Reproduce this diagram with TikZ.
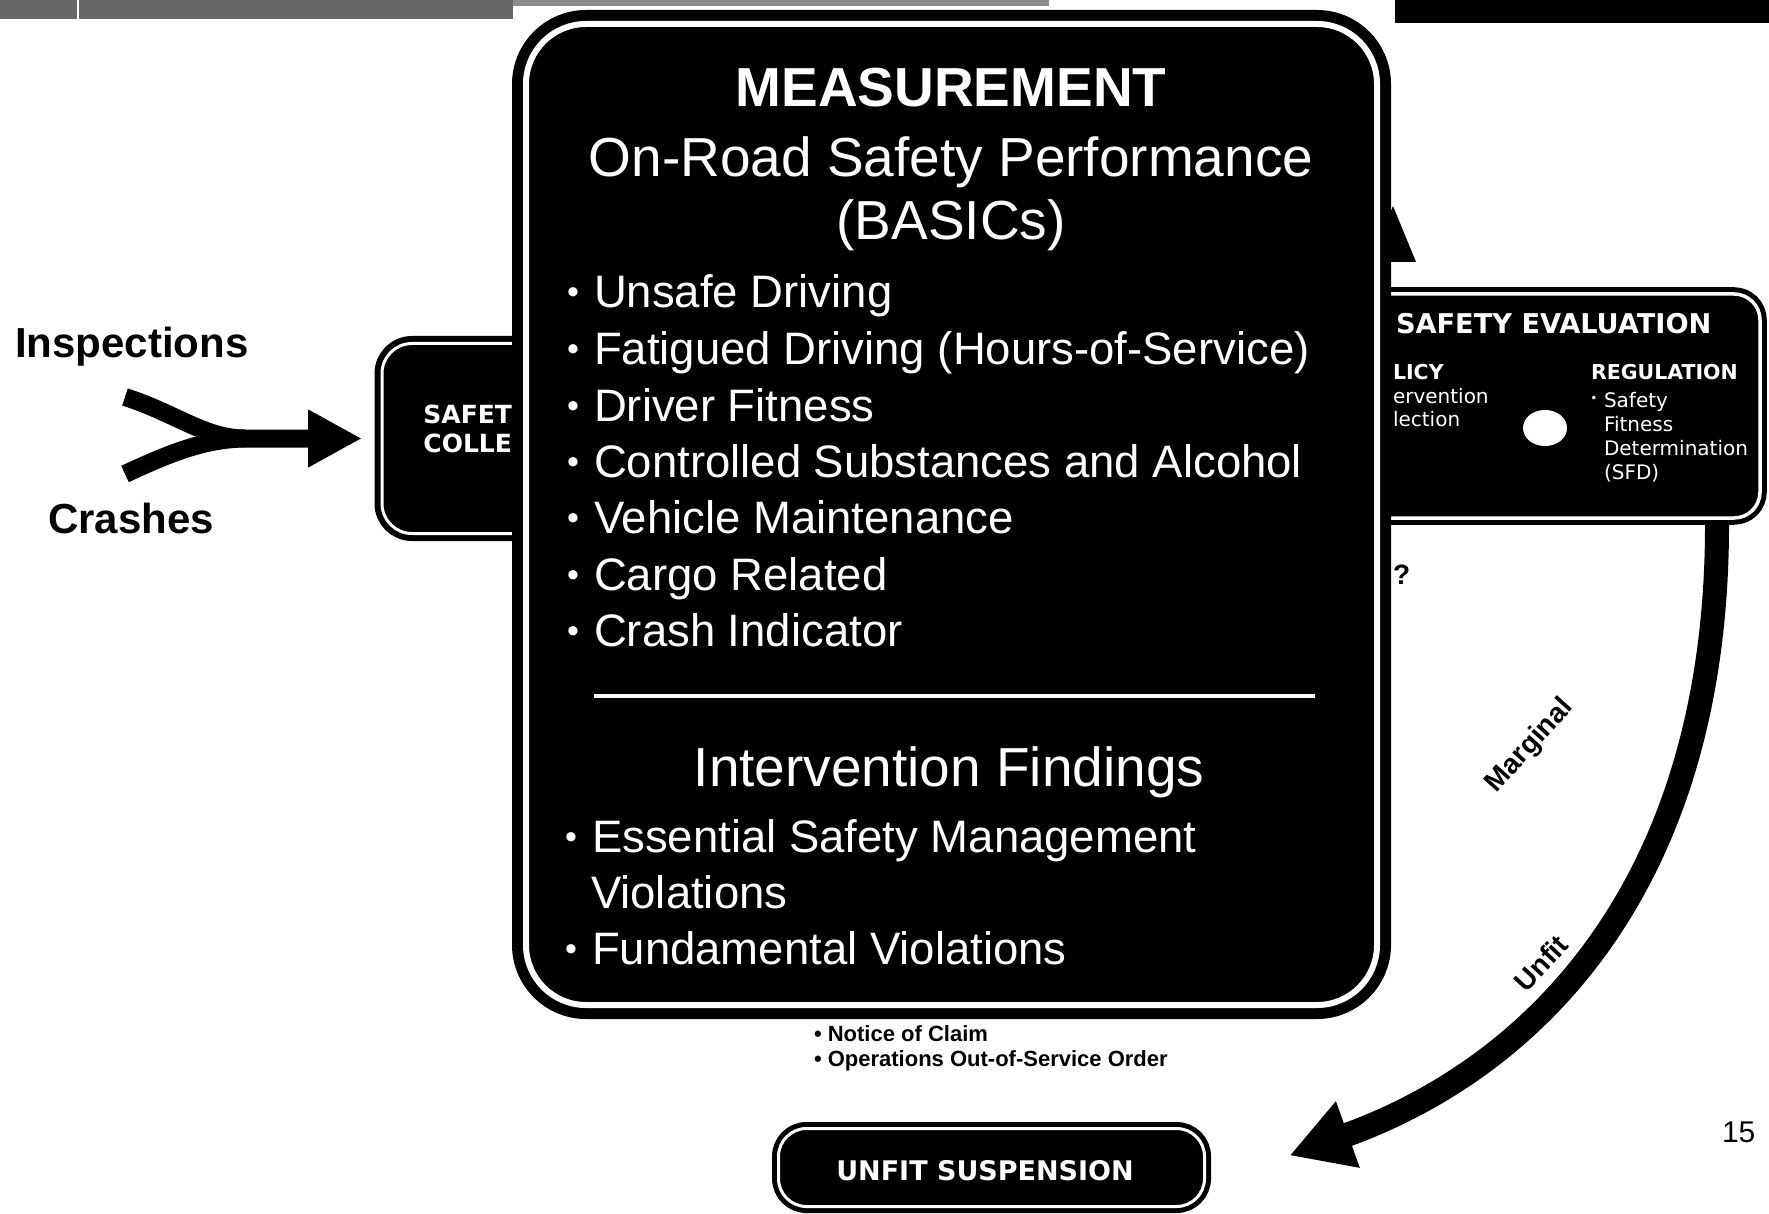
\documentclass[tikz,border=0pt]{standalone}
\usepackage{fontspec}
\setmainfont{Liberation Sans}
\newfontfamily\dvsans{DejaVu Sans}
\usetikzlibrary{arrows.meta,calc,shapes.geometric}

\newcommand{\setfs}[1]{\fontsize{#1}{#1}\selectfont}
% small raised bullet used in the panel lists
\newcommand{\mbul}{\makebox[27pt][l]{\setfs{34}\raisebox{4pt}{•}}}

\tikzset{
  boxring/.style={draw=black, fill=black, double=white, inner sep=0pt, outer sep=0pt},
  wtxt/.style={text=white, inner sep=0pt, outer sep=0pt},
  btxt/.style={text=black, inner sep=0pt, outer sep=0pt},
  bigtxt/.style={wtxt, font=\setfs{55}},
  itemtxt/.style={wtxt, anchor=base west, font=\setfs{45.5}},
  evalhead/.style={wtxt, anchor=base west, font=\dvsans\bfseries\setfs{20.5}},
  evalitem/.style={wtxt, anchor=base west, font=\dvsans\setfs{20}},
  fatline/.style={line width=18pt, line cap=butt},
  flowlabel/.style={btxt, font=\bfseries\setfs{28}},
}

\begin{document}
\begin{tikzpicture}[x=1pt,y=-1pt]
\fill[white] (0,0) rectangle (1769,1214);
\useasboundingbox (0,0) rectangle (1769,1214);

% header strips
\fill[black!60] (0,0) rectangle (513,19);
\fill[black!45] (513,0) rectangle (1049,6);
\fill[white] (77,0) rectangle (79,19);
\fill[black] (1395,0) rectangle (1769,23);

% side boxes, partly covered by the measurement panel
\node[boxring, line width=5pt, double distance=3.5pt, rounded corners=26pt,
      minimum width=560pt, minimum height=224pt] (seval) at (1480,406) {};
\node[boxring, line width=6pt, double distance=3pt, rounded corners=30pt,
      minimum width=318pt, minimum height=190pt] (collect) at (541,438.5) {};

% collection box label
\node[wtxt, anchor=base east, font=\dvsans\bfseries\setfs{25}] (csafe) at (512,423) {SAFET};
\node[wtxt, anchor=base east, font=\dvsans\bfseries\setfs{25}] (ccoll) at (512,452) {COLLE};

% safety evaluation contents
\node[wtxt, anchor=base west, font=\dvsans\bfseries\setfs{27.2}] (tseval) at (1396,334) {SAFETY EVALUATION};
\node[evalhead] (tlicy) at (1393,379) {LICY};
\node[evalhead] (treg) at (1591,379) {REGULATION};
\node[evalitem] (tpolA) at (1393,403) {ervention};
\node[evalitem] (tpolB) at (1393,426) {lection};
\node[wtxt, anchor=base, font=\dvsans\setfs{12}] (tregb) at (1594,402) {•};
\node[evalitem] (tregA) at (1604,407) {Safety};
\node[evalitem] (tregB) at (1604,431) {Fitness};
\node[evalitem] (tregC) at (1604,455) {Determination};
\node[evalitem] (tregD) at (1604,479) {(SFD)};
\node[ellipse, fill=white, inner sep=0pt, minimum width=44pt, minimum height=36pt] (dot) at (1545,428) {};

% arrowhead rising above the evaluation box
\fill (1393,206) -- (1416,262) -- (1370,262) -- cycle;

% measurement panel
\node[boxring, line width=11pt, double distance=6pt, rounded corners=60pt,
      minimum width=851pt, minimum height=981pt] (meas) at (951.5,514.5) {};

\node[bigtxt, anchor=base, font=\bfseries\setfs{55}] (tmeas) at (951,107) {MEASUREMENT};
\node[bigtxt, anchor=base] (tonroad) at (951,177) {On-Road Safety Performance};
\node[bigtxt, anchor=base] (tbasic) at (951,240) {(BASICs)};

\node[itemtxt] (bA) at (567,308) {\mbul Unsafe Driving};
\node[itemtxt] (bB) at (567,364.5) {\mbul Fatigued Driving (Hours-of-Service)};
\node[itemtxt] (bC) at (567,421) {\mbul Driver Fitness};
\node[itemtxt] (bD) at (567,477) {\mbul Controlled Substances and Alcohol};
\node[itemtxt] (bE) at (567,533.5) {\mbul Vehicle Maintenance};
\node[itemtxt] (bF) at (567,590) {\mbul Cargo Related};
\node[itemtxt] (bG) at (567,646) {\mbul Crash Indicator};

\coordinate (ruleL) at (594,696);
\coordinate (ruleR) at (1315,696);
\draw[white, line width=3.5pt] (ruleL) -- (ruleR);

\node[bigtxt, anchor=base] (tfind) at (949,786) {Intervention Findings};
\node[itemtxt] (fA) at (565,852) {\mbul Essential Safety Management};
\node[itemtxt] (fB) at (591,908) {Violations};
\node[itemtxt] (fC) at (565,964) {\mbul Fundamental Violations};

% inputs
\node[btxt, anchor=base west, font=\bfseries\setfs{42}] (tinsp) at (15,358) {Inspections};
\node[btxt, anchor=base west, font=\bfseries\setfs{42}] (tcrash) at (48,533) {Crashes};

\coordinate (insrc) at (125,397);
\coordinate (crsrc) at (125,474);
\coordinate (joinpt) at (245,438.5);
\draw[fatline] (crsrc) .. controls (170,453) and (205,439) .. (joinpt);
\draw[fatline, -{Triangle[length=54pt,width=54pt]}, shorten >=20pt]
  (insrc) .. controls (175,413) and (205,438.5) .. (joinpt) -- (collect.west);

% suspension outcome
\node[boxring, line width=5pt, double distance=3pt, rounded corners=28pt,
      minimum width=426pt, minimum height=78pt] (unfit) at (991.5,1167.5) {};
\node[wtxt, anchor=base, font=\dvsans\bfseries\setfs{27}] (tunfitlbl) at (985,1180) {UNFIT SUSPENSION};

\node[btxt, anchor=base west, font=\bfseries\setfs{22}] (nA) at (814,1041) {• Notice of Claim};
\node[btxt, anchor=base west, font=\bfseries\setfs{22}] (nB) at (814,1066) {• Operations Out-of-Service Order};

\draw[line width=24pt, line cap=butt, -{Triangle[length=62pt,width=66pt]}]
  ($(seval.south east)+(-43,7)$) .. controls +(0,360) and +(245,-88) .. ($(unfit.east)+(85,-12)$);

\node[flowlabel, rotate=48] (tmarg) at (1530,746) {Marginal};
\node[flowlabel, rotate=47] (tunfit) at (1541,963) {Unfit};
\node[btxt, anchor=base west, font=\bfseries\setfs{28}] (tq) at (1393,584) {?};

\node[btxt, anchor=base west, font=\setfs{30}] (pgno) at (1722,1142) {15};
\end{tikzpicture}
\end{document}
